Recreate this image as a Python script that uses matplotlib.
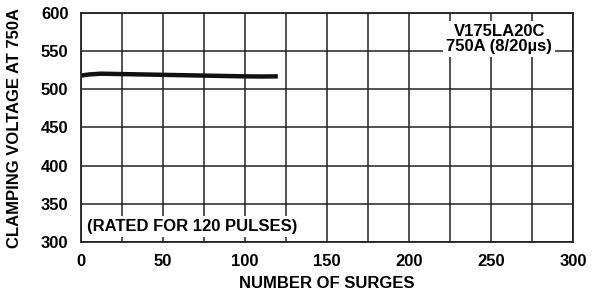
import matplotlib.pyplot as plt
from matplotlib.ticker import MultipleLocator

# datos
surges = [0, 5, 12, 25, 50, 75, 100, 110, 120]
voltage = [518, 519.5, 520.5, 520, 519, 518, 517, 516.8, 517]

plt.rcParams['font.family'] = ['Liberation Sans', 'DejaVu Sans']
plt.rcParams['font.weight'] = 'bold'

fig = plt.figure(figsize=(6.02, 2.92), dpi=100)
ax = fig.add_axes([81/602, 1-242/292, 492/602, 229/292])

ax.plot(surges, voltage, color='#111111', lw=3.2, solid_capstyle='butt')

ax.set_xlim(0, 300)
ax.set_ylim(300, 600)
ax.xaxis.set_major_locator(MultipleLocator(50))
ax.xaxis.set_minor_locator(MultipleLocator(25))
ax.yaxis.set_major_locator(MultipleLocator(50))
ax.grid(True, which='both', color='#222222', lw=1.1)
ax.tick_params(which='both', length=0, labelsize=12)
ax.tick_params(axis='y', pad=9)
ax.tick_params(axis='x', pad=9)
for s in ax.spines.values():
    s.set_linewidth(1.3)
    s.set_color('#222222')

ax.set_xlabel('NUMBER OF SURGES', fontsize=12, fontweight='bold')
ax.set_ylabel('CLAMPING VOLTAGE AT 750A', fontsize=12, fontweight='bold')
ax.xaxis.set_label_coords(0.5, (242-283)/229, transform=ax.transAxes)
ax.yaxis.set_label_coords((15-81)/492, 0.5, transform=ax.transAxes)
ax.xaxis.label.set_va('center')
ax.yaxis.label.set_va('center')

ax.text(255, 566, 'V175LA20C\n750A (8/20µs)', ha='center', va='center',
        fontsize=12, fontweight='bold', linespacing=1.0,
        bbox=dict(facecolor='white', edgecolor='none', pad=2))
ax.text(68, 320, '(RATED FOR 120 PULSES)', ha='center', va='center',
        fontsize=12, fontweight='bold',
        bbox=dict(facecolor='white', edgecolor='none', pad=2))

plt.savefig('out.png', dpi=100)
